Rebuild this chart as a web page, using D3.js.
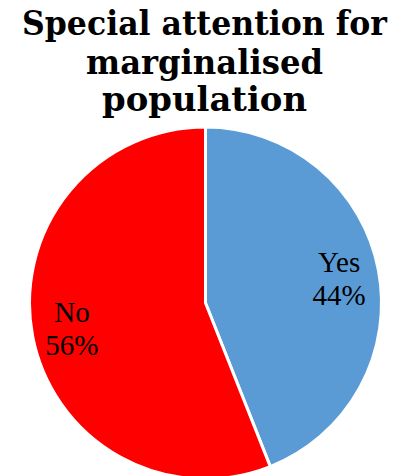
<!DOCTYPE html>
<html><head><meta charset="utf-8">
<script src="https://cdn.jsdelivr.net/npm/d3@7"></script>
<style>html,body{margin:0;padding:0;background:#fff;overflow:hidden}</style>
</head><body>
<svg id="c" width="409" height="476"></svg>
<script>
const titleLines = ["Special attention for", "marginalised", "population"];
const categories = ["Yes", "No"];
const values = [44, 56];
const colors = ["#5B9BD5", "#FF0000"];

const svg = d3.select("#c");
const W = 409, H = 476;
const cx = 205.5, cy = 303, R = 176;

// Title
const title = svg.append("g");
const tBase = [35, 74, 111];
const tWidth = [365, 237, 205];
titleLines.forEach((t, i) => {
  title.append("text")
    .attr("x", W / 2).attr("y", tBase[i])
    .attr("text-anchor", "middle")
    .attr("font-family", "DejaVu Serif, Georgia, serif")
    .attr("font-weight", "bold")
    .attr("font-size", 33)
    .attr("fill", "#000")
    .attr("textLength", tWidth[i])
    .attr("lengthAdjust", "spacingAndGlyphs")
    .text(t);
});

const pie = d3.pie().sort(null).value(d => d.v);
const data = pie(categories.map((c, i) => ({c, v: values[i], col: colors[i]})));
const arc = d3.arc().innerRadius(0).outerRadius(R);
const labelArc = d3.arc().innerRadius(136).outerRadius(136);

const g = svg.append("g").attr("transform", `translate(${cx},${cy})`);
g.selectAll("path").data(data).join("path")
  .attr("d", arc)
  .attr("fill", d => d.data.col)
  .attr("stroke", "#fff")
  .attr("stroke-width", 3)
  .attr("stroke-linejoin", "round");

const lab = g.selectAll("g.lab").data(data).join("g").attr("class", "lab")
  .attr("transform", d => { const [x, y] = labelArc.centroid(d); return `translate(${x},${y})`; });
lab.append("text")
  .attr("text-anchor", "middle")
  .attr("y", -6)
  .attr("font-family", "Liberation Serif, Times New Roman, serif")
  .attr("font-size", 29)
  .attr("fill", "#000")
  .text(d => d.data.c);
lab.append("text")
  .attr("text-anchor", "middle")
  .attr("y", 27)
  .attr("font-family", "Liberation Serif, Times New Roman, serif")
  .attr("font-size", 29)
  .attr("fill", "#000")
  .text(d => Math.round(d.data.v) + "%");
</script>
</body></html>
